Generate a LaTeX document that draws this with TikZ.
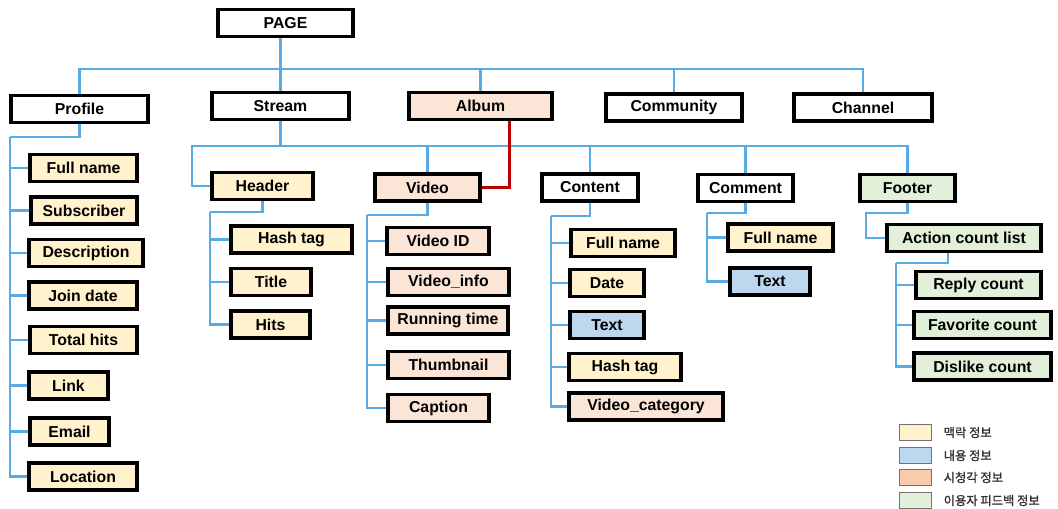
\documentclass[tikz,border=0pt]{standalone}
\usepackage{fontspec}
\setmainfont{Liberation Sans}
\newfontfamily\kor{Noto Sans CJK KR}[AutoFakeBold=1.5]
\definecolor{ctx}{HTML}{FFF2CC}
\definecolor{cnt}{HTML}{BDD7EE}
\definecolor{av}{HTML}{FBE5D6}
\definecolor{avkey}{HTML}{F8CBAD}
\definecolor{fb}{HTML}{E2F0D9}
\definecolor{linkblue}{HTML}{5AAAE6}
\definecolor{linkred}{HTML}{C00000}
\def\keyitem#1#2#3#4{\node[key,fill=#2] (#1) at (915.5,#3) {};
  \node[keytext] (#1t) at ([xshift=0.22cm]#1.east) {#4}}
\tikzstyle{box}=[draw,line width=1.8pt,minimum height=0.54cm,inner sep=0pt,font=\fontsize{9}{10}\selectfont\bfseries]
\tikzstyle{link}=[draw=linkblue,line width=1.3pt]
\tikzstyle{redlink}=[draw=linkred,line width=1.3pt]
\tikzstyle{key}=[draw=black!55,line width=1pt,minimum width=0.64cm,minimum height=0.32cm,inner sep=0pt]
\tikzstyle{keytext}=[anchor=west,inner sep=0pt,text=black!80,font=\kor\fontsize{7}{8}\selectfont\bfseries]

\begin{document}
\begin{tikzpicture}[x=0.02cm,y=-0.02cm]
  \useasboundingbox (0,0) rectangle (1058,508);
  \node[box,minimum width=2.7cm] (page) at (285.5,23) {PAGE};
  \node[box,minimum width=2.74cm] (profile) at (79.5,109) {Profile};
  \node[box,minimum width=2.74cm] (stream) at (280.5,106) {Stream};
  \node[box,fill=av,minimum width=2.86cm] (album) at (480.5,106) {Album};
  \node[box,minimum width=2.72cm] (community) at (674,107.5) {Community};
  \node[box,minimum width=2.76cm] (channel) at (863,107.5) {Channel};
  % profile
  \node[box,fill=ctx,minimum width=2.14cm] (pfull) at (83.5,168) {Full name};
  \node[box,fill=ctx,minimum width=2.12cm] (psub) at (84,210.5) {Subscriber};
  \node[box,fill=ctx,minimum width=2.28cm] (pdesc) at (86,253) {Description};
  \node[box,fill=ctx,minimum width=2.16cm] (pjoin) at (83,295.5) {Join date};
  \node[box,fill=ctx,minimum width=2.14cm] (ptotal) at (83.5,340) {Total hits};
  \node[box,fill=ctx,minimum width=1.58cm] (plink) at (68.5,385.5) {Link};
  \node[box,fill=ctx,minimum width=1.58cm] (pmail) at (69.5,431.5) {Email};
  \node[box,fill=ctx,minimum width=2.16cm] (ploc) at (83,476.5) {Location};
  % stream
  \node[box,fill=ctx,minimum width=2.02cm] (header) at (262.5,186) {Header};
  \node[box,fill=av,minimum width=2.1cm] (video) at (427.5,187.5) {Video};
  \node[box,minimum width=1.92cm] (content) at (590,187.5) {Content};
  \node[box,minimum width=1.9cm] (comment) at (745.5,188) {Comment};
  \node[box,fill=fb,minimum width=1.9cm] (footer) at (907.5,188) {Footer};
  \node[box,fill=ctx,minimum width=2.42cm] (hhash) at (291.5,239.5) {Hash tag};
  \node[box,fill=ctx,minimum width=1.6cm] (htitle) at (271,282) {Title};
  \node[box,fill=ctx,minimum width=1.58cm] (hhits) at (270.5,324.5) {Hits};
  \node[box,fill=av,minimum width=2.04cm] (vid) at (438,241) {Video ID};
  \node[box,fill=av,minimum width=2.42cm] (vinfo) at (448.5,282) {Video\_info};
  \node[box,fill=av,minimum width=2.4cm] (vtime) at (448,320.5) {Running time};
  \node[box,fill=av,minimum width=2.42cm] (vthumb) at (448.5,365) {Thumbnail};
  \node[box,fill=av,minimum width=2.02cm] (vcap) at (438.5,408) {Caption};
  \node[box,fill=ctx,minimum width=2.08cm] (cfull) at (623,243) {Full name};
  \node[box,fill=ctx,minimum width=1.48cm] (cdate) at (607,283) {Date};
  \node[box,fill=cnt,minimum width=1.48cm] (ctext) at (607,325) {Text};
  \node[box,fill=ctx,minimum width=2.24cm] (chash) at (625,367) {Hash tag};
  \node[box,fill=av,minimum width=3.08cm] (ccat) at (646,406.5) {Video\_category};
  \node[box,fill=ctx,minimum width=2.1cm] (mfull) at (780.5,237.5) {Full name};
  \node[box,fill=cnt,minimum width=1.6cm] (mtext) at (770,281.5) {Text};
  \node[box,fill=fb,minimum width=3.08cm] (action) at (964,238) {Action count list};
  \node[box,fill=fb,minimum width=2.5cm] (freply) at (978.5,285) {Reply count};
  \node[box,fill=fb,minimum width=2.74cm] (ffav) at (982.5,325) {Favorite count};
  \node[box,fill=fb,minimum width=2.74cm] (fdis) at (982.5,366.5) {Dislike count};
  % joints
  \coordinate (mbus) at (280.5,69);
  \coordinate (pcor) at (10,137);
  \coordinate (sjoint) at (280.5,146);
  \coordinate (hbus) at (192,146);
  \coordinate (hcor) at (210,212);
  \coordinate (vcor) at (367,215);
  \coordinate (ccor) at (551,216);
  \coordinate (mcor) at (707,213);
  \coordinate (fcor) at (866,213);
  \coordinate (acor) at (896,263);
  \draw[link] (stream.north |- page.south) -- (stream.north);
  \foreach \n in {profile,album,community,channel} \draw[link] (mbus) -| (\n.north);
  \draw[link] (profile.south) |- (pcor);
  \foreach \n in {pfull,psub,pdesc,pjoin,ptotal,plink,pmail,ploc} \draw[link] (pcor) |- (\n.west);
  \draw[link] (stream.south) -- (sjoint) -- (hbus) |- (header.west);
  \foreach \n in {video,content,comment,footer} \draw[link] (sjoint) -| (\n.north);
  \draw[link] (header.south) |- (hcor);
  \foreach \n in {hhash,htitle,hhits} \draw[link] (hcor) |- (\n.west);
  \draw[link] (video.south) |- (vcor);
  \foreach \n in {vid,vinfo,vtime,vthumb,vcap} \draw[link] (vcor) |- (\n.west);
  \draw[link] (content.south) |- (ccor);
  \foreach \n in {cfull,cdate,ctext,chash,ccat} \draw[link] (ccor) |- (\n.west);
  \draw[link] (comment.south) |- (mcor);
  \foreach \n in {mfull,mtext} \draw[link] (mcor) |- (\n.west);
  \draw[link] (footer.south) |- (fcor) |- (action.west);
  \draw[link] ([xshift=-0.32cm]action.south) |- (acor);
  \foreach \n in {freply,ffav,fdis} \draw[link] (acor) |- (\n.west);
  \draw[redlink] ([xshift=-0.88cm]album.south east) |- (video.east);
  % legend
  \keyitem{key1}{ctx}{432.5}{맥락 정보};
  \keyitem{key2}{cnt}{455.5}{내용 정보};
  \keyitem{key3}{avkey}{477.5}{시청각 정보};
  \keyitem{key4}{fb}{500.5}{이용자 피드백 정보};
\end{tikzpicture}
\end{document}
